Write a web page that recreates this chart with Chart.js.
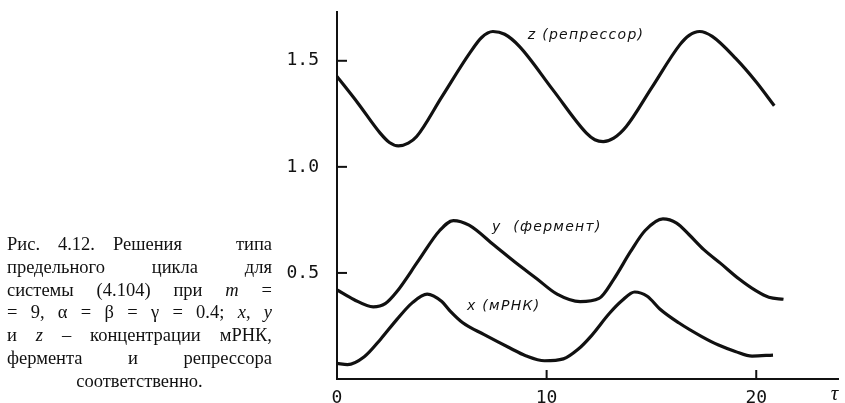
<!DOCTYPE html>
<html>
<head>
<meta charset="utf-8">
<script src="https://cdn.jsdelivr.net/npm/chart.js@4.4.1/dist/chart.umd.min.js"></script>
<style>
  html, body { margin: 0; padding: 0; background: #fff; }
  #wrap { position: relative; width: 845px; height: 403px; overflow: hidden; }
  #chart { position: absolute; left: 0; top: 0; }
  #caption {
    position: absolute; left: 7px; top: 233px; width: 265px;
    font-family: "Liberation Serif", "DejaVu Serif", serif;
    font-size: 18.5px; line-height: 22.8px; color: #111;
  }
  #caption div { text-align: justify; text-align-last: justify; white-space: nowrap; }
  #caption div.last { text-align: center; text-align-last: center; }
  #caption i { font-style: italic; }
</style>
</head>
<body>
<div id="wrap">
  <canvas id="chart" width="845" height="403"></canvas>
  <div id="caption">
    <div>Рис. 4.12. Решения&nbsp;&nbsp; типа</div>
    <div>предельного цикла для</div>
    <div>системы (4.104) при <i>m</i> =</div>
    <div>= 9, α = β = γ = 0.4; <i>x</i>, <i>y</i></div>
    <div>и <i>z</i> – концентрации мРНК,</div>
    <div>фермента и репрессора</div>
    <div class="last">соответственно.</div>
  </div>
</div>
<script>
// значения
const TAU_Z = [0, 1.0, 2.06, 2.5, 2.93, 3.4, 3.8, 5.0, 6.33, 6.9, 7.44, 8.0, 8.7, 10.3, 11.9, 12.3, 12.7, 13.2, 13.8, 15.0, 16.35, 16.8, 17.3, 17.9, 19.03, 20.0, 20.86];
const Z_VALS = [1.426, 1.30, 1.159, 1.115, 1.099, 1.112, 1.143, 1.33, 1.536, 1.61, 1.638, 1.625, 1.568, 1.363, 1.159, 1.128, 1.119, 1.135, 1.19, 1.371, 1.575, 1.62, 1.638, 1.615, 1.51, 1.40, 1.288];

const TAU_Y = [0, 0.8, 1.73, 2.3, 2.84, 3.9, 4.9, 5.55, 6.3, 7.5, 8.5, 9.5, 10.5, 11.6, 12.5, 13.2, 14.0, 14.7, 15.55, 16.2, 16.8, 17.5, 18.3, 19.2, 20.0, 20.6, 21.3];
const Y_VALS = [0.42, 0.375, 0.34, 0.355, 0.41, 0.56, 0.70, 0.747, 0.725, 0.63, 0.55, 0.475, 0.40, 0.365, 0.38, 0.47, 0.60, 0.70, 0.755, 0.735, 0.68, 0.61, 0.545, 0.47, 0.415, 0.385, 0.376];

const TAU_X = [0, 0.5, 1.3, 2.1, 2.85, 3.6, 4.3, 5.0, 5.4, 6.0, 7.0, 8.25, 9.0, 9.9, 10.8, 11.5, 12.1, 13.0, 13.6, 14.2, 14.8, 15.4, 16.3, 17.4, 18.2, 19.0, 19.8, 20.8];
const X_VALS = [0.074, 0.068, 0.105, 0.19, 0.28, 0.36, 0.40, 0.365, 0.32, 0.265, 0.21, 0.146, 0.11, 0.086, 0.095, 0.14, 0.20, 0.31, 0.37, 0.41, 0.39, 0.33, 0.265, 0.20, 0.16, 0.13, 0.108, 0.113];

const X_TICKS = [0, 10, 20];
const Y_TICKS = [0.5, 1.0, 1.5];

// подписи кривых: [текст, τ, значение]
const CURVE_LABELS = [
    ['z (репрессор)', 9.1, 1.62],
    ['y  (фермент)', 7.4, 0.717],
    ['x (мРНК)', 6.2, 0.344]
];

const INK = '#111';

function pts(tau, vals) {
    return tau.map((t, i) => ({ x: t, y: vals[i] }));
}

function serie(tau, vals) {
    return {
        data: pts(tau, vals),
        borderColor: INK,
        borderWidth: 3.2,
        pointRadius: 0,
        cubicInterpolationMode: 'monotone',
        fill: false
    };
}

// убрать добавочные отступы осей, чтобы область графика была точно по рисунку
function noPad(s) {
    s.paddingTop = 0; s.paddingBottom = 0;
    s.paddingLeft = 0; s.paddingRight = 0;
}

// засечки внутрь и подписи
const decor = {
    id: 'decor',
    afterDraw(chart) {
        const { ctx, chartArea, scales } = chart;
        const sx = scales.x, sy = scales.y;
        ctx.save();
        ctx.strokeStyle = INK;
        ctx.lineWidth = 2;
        Y_TICKS.forEach(v => {
            const py = sy.getPixelForValue(v);
            ctx.beginPath();
            ctx.moveTo(chartArea.left, py);
            ctx.lineTo(chartArea.left + 10, py);
            ctx.stroke();
        });
        X_TICKS.filter(v => v > 0).forEach(v => {
            const px = sx.getPixelForValue(v);
            ctx.beginPath();
            ctx.moveTo(px, chartArea.bottom);
            ctx.lineTo(px, chartArea.bottom - 9);
            ctx.stroke();
        });

        ctx.fillStyle = INK;
        ctx.textBaseline = 'middle';
        ctx.font = 'italic 14px "DejaVu Sans"';
        ctx.letterSpacing = '1.3px';
        CURVE_LABELS.forEach(([txt, t, v]) => {
            ctx.fillText(txt, sx.getPixelForValue(t), sy.getPixelForValue(v));
        });
        ctx.letterSpacing = '0px';

        ctx.font = 'italic 21px "Liberation Serif"';
        ctx.fillText('τ', sx.getPixelForValue(23.55), chartArea.bottom + 15);
        ctx.restore();
    }
};

new Chart(document.getElementById('chart'), {
    type: 'line',
    data: {
        datasets: [
            serie(TAU_Z, Z_VALS),
            serie(TAU_Y, Y_VALS),
            serie(TAU_X, X_VALS)
        ]
    },
    options: {
        responsive: false,
        animation: false,
        events: [],
        layout: { padding: { left: 0, right: 7, top: 12, bottom: 0 } },
        plugins: { legend: { display: false }, tooltip: { enabled: false } },
        scales: {
            x: {
                type: 'linear',
                min: 0, max: 23.9,
                grid: { display: false, drawTicks: false },
                border: { display: true, color: INK, width: 2 },
                ticks: {
                    color: INK, padding: 9, maxRotation: 0, autoSkip: false,
                    font: { family: '"DejaVu Sans Mono"', size: 18 }
                },
                afterBuildTicks: s => { s.ticks = X_TICKS.map(v => ({ value: v })); },
                afterFit: s => { s.height = 24; noPad(s); }
            },
            y: {
                type: 'linear',
                min: 0, max: 1.73,
                grid: { display: false, drawTicks: false },
                border: { display: true, color: INK, width: 2 },
                ticks: {
                    color: INK, padding: 18, autoSkip: false,
                    font: { family: '"DejaVu Sans Mono"', size: 18 },
                    callback: v => v.toFixed(1)
                },
                afterBuildTicks: s => { s.ticks = Y_TICKS.map(v => ({ value: v })); },
                afterFit: s => { s.width = 337; noPad(s); }
            }
        }
    },
    plugins: [decor]
});
</script>
</body>
</html>
